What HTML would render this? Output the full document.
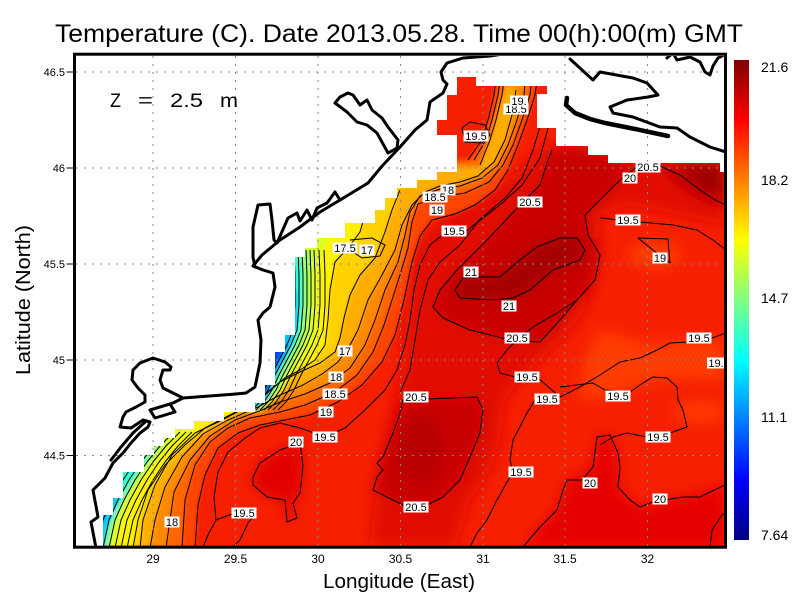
<!DOCTYPE html>
<html>
<head>
<meta charset="utf-8">
<style>
html,body{margin:0;padding:0;background:#fff;}
svg{display:block;}
text{font-family:"Liberation Sans",sans-serif;fill:#000;}
</style>
</head>
<body>
<svg width="800" height="600" viewBox="0 0 800 600" xmlns="http://www.w3.org/2000/svg">
<defs>
  <clipPath id="dc">
    <polygon points="457,77 476,77 476,86 547,86 547,94 537,94 537,128 556,128 556,146 588,146 588,155 608,155 608,163 720,163 720,172 725,172 725,547 103,547 103,515 113,515 113,498 123,498 123,472 144,472 144,455 154,455 154,446 164,446 164,438 175,438 175,429 194,429 194,421 224,421 224,412 255,412 255,403 265,403 265,385 275,385 275,352 285,352 285,335 295,335 295,257 305,257 305,248 317,248 317,238 345,238 345,223 375,223 375,210 385,210 385,198 397,198 397,188 417,188 417,180 437,180 437,172 457,172 457,135 437,135 437,120 447,120 447,95 457,95"/>
  </clipPath>
  <clipPath id="plot"><rect x="76" y="56" width="648" height="490"/></clipPath>
  <filter id="bA" filterUnits="userSpaceOnUse" x="0" y="0" width="800" height="600"><feGaussianBlur stdDeviation="7"/></filter>
  <filter id="bB" filterUnits="userSpaceOnUse" x="0" y="0" width="800" height="600"><feGaussianBlur stdDeviation="2.5"/></filter>
  <linearGradient id="jet" x1="0" y1="0" x2="0" y2="1">
    <stop offset="0" stop-color="#800000"/>
    <stop offset="0.125" stop-color="#ff0000"/>
    <stop offset="0.375" stop-color="#ffff00"/>
    <stop offset="0.625" stop-color="#00ffff"/>
    <stop offset="0.875" stop-color="#0000ff"/>
    <stop offset="1" stop-color="#000080"/>
  </linearGradient>
</defs>

<rect x="0" y="0" width="800" height="600" fill="#fff"/>

<!-- Title -->
<text x="55" y="42" font-size="25" textLength="688" lengthAdjust="spacingAndGlyphs">Temperature (C). Date 2013.05.28. Time 00(h):00(m) GMT</text>

<!-- Field -->
<g clip-path="url(#dc)">
  <rect x="0" y="0" width="800" height="600" fill="#f62000"/>
  <g filter="url(#bA)">
    <polygon fill="#e20800" points="410,250 440,215 480,195 520,170 545,145 600,150 640,165 700,165 725,170 725,225 680,215 630,205 600,215 600,260 590,300 570,330 540,360 520,380 505,400 500,440 490,470 470,500 455,547 370,547 375,500 380,460 390,420 400,380 405,330 408,290"/>
    <polygon fill="#e60600" points="523,547 540,527 557,510 567,480 593,467 598,435 610,435 618,460 620,490 640,507 683,497 725,485 725,547"/>
    <polygon fill="#e00400" points="253,477 260,463 280,450 300,443 303,466 300,493 293,503 297,518 287,522 285,500 267,497 253,485"/>
    <polygon fill="#ff3c00" points="600,330 650,345 700,340 725,345 725,380 690,378 650,382 610,395 580,400 585,360"/>
    <ellipse cx="655" cy="255" rx="25" ry="12" fill="#ff4000"/>
    <ellipse cx="700" cy="412" rx="25" ry="12" fill="#ff3800"/>
    <polygon fill="#c80000" points="433,307 440,290 457,270 487,240 520,205 540,185 548,160 556,146 588,146 588,155 608,155 608,163 635,165 620,180 600,200 585,215 588,235 600,255 595,280 577,300 560,320 540,342 510,340 470,330 443,318"/>
    <polygon fill="#c80000" points="403,400 427,399 477,397 483,410 480,433 470,457 460,480 443,497 427,505 403,505 387,497 373,490 377,477 383,470 377,463 383,457 393,433 400,413"/>
    <polygon fill="#c40000" points="655,163 725,163 725,210 710,205 690,195 670,180"/>
    <ellipse cx="420" cy="450" rx="22" ry="35" fill="#b80000"/>
    <polygon fill="#a40000" points="455,290 463,278 482,277 500,277 520,260 537,247 560,238 577,238 585,250 580,260 553,270 530,290 513,298 492,300 460,298"/>
    <polygon fill="#9a0000" points="680,163 725,163 725,195 705,190 690,178"/>
  </g>
  <g filter="url(#bB)">
    <polygon fill="#ff4400" points="540,60 535,95 527,120 518,145 508,170 495,190 475,205 455,214 432,220 420,236 412,262 404,300 395,335 382,362 362,385 338,402 310,415 285,420 260,425 238,433 218,448 205,475 198,505 195,548 0,548 0,160 455,160 468,160 482,140 488,120 494,95 498,60"/>
    <polygon fill="#ff6600" points="534,60 530,95 522,120 513,145 503,165 489,182 465,193 440,197 418,204 412,222 408,248 400,275 392,300 384,325 373,352 357,375 335,392 305,405 280,412 250,418 228,428 210,442 195,465 185,500 182,548 0,548 0,160 455,160 474,160 486,140 492,120 498,95 503,60"/>
    <polygon fill="#ff8a00" points="527,60 524,95 517,120 508,145 498,165 482,178 460,186 440,189 420,196 410,212 405,235 398,262 385,290 375,320 365,345 350,368 330,383 305,394 280,402 262,410 235,420 210,436 190,460 174,492 166,548 0,548 0,165 455,165 480,165 490,140 496,120 502,95 507,60"/>
    <polygon fill="#ffae00" points="516,90 512,115 505,140 494,162 478,176 460,182 440,186 425,192 412,205 402,225 395,250 382,275 368,300 358,330 350,345 338,362 322,374 303,385 278,396 258,407 228,420 203,434 182,457 165,487 155,520 150,548 0,548 0,168 455,168 480,168 487,148 494,125 502,100 508,85"/>
    <polygon fill="#ffd200" points="400,190 392,210 385,232 375,258 360,275 350,295 344,318 340,338 335,352 320,363 300,372 280,382 265,395 245,408 220,421 195,433 172,455 155,485 143,520 140,548 0,548 0,185 400,185"/>
    <polygon fill="#fff200" points="365,215 360,232 348,248 335,262 330,290 328,320 325,345 315,360 300,370 285,378 270,390 255,402 230,415 205,428 185,445 165,465 148,490 138,520 133,548 0,548 0,210 365,210"/>
    <polygon fill="#e0ff20" points="330,236 322,255 318,280 318,310 317,335 312,350 302,362 292,375 282,390 272,402 262,410 250,412 250,236"/>
    <polygon fill="#e0ff20" points="195,430 178,440 162,455 150,470 137,490 127,510 120,530 117,548 0,548 0,430"/>
    <polygon fill="#9bff64" points="312,250 310,275 310,305 308,330 303,345 295,358 287,372 280,388 270,400 262,408 250,410 250,250"/>
    <polygon fill="#9bff64" points="168,440 156,455 143,472 131,490 121,508 113,528 109,548 0,548 0,440"/>
    <polygon fill="#2effd1" points="302,256 303,280 303,305 301,328 296,343 290,355 282,370 275,385 268,398 260,406 250,408 250,256"/>
    <polygon fill="#2effd1" points="150,456 137,474 125,494 116,512 109,530 106,548 0,548 0,456"/>
    <polygon fill="#00bfff" points="297,290 298,320 293,340 286,355 278,370 272,385 266,398 260,405 250,405 250,290"/>
    <polygon fill="#00bfff" points="122,498 112,514 106,530 104,548 0,548 0,498"/>
    <polygon fill="#0040ff" points="288,345 280,360 272,378 268,395 262,402 250,402 250,345"/>
  </g>

  <!-- contour lines -->
  <g fill="none" stroke="#000" stroke-width="1" stroke-linejoin="round">
    <polygon points="455,290 463,278 482,277 500,277 520,260 537,247 560,238 577,238 585,250 580,260 553,270 530,290 513,298 492,300 460,298"/>
    <polyline points="552,150 548,160 540,185 520,205 487,240 457,270 440,290 433,307 443,318 470,330 510,340 540,342 560,320 577,300 595,280 600,255 588,235 585,215 600,200 620,180 635,168 660,166 680,175 700,190 715,200 726,205"/>
    <polygon points="403,400 427,399 477,397 483,410 480,433 470,457 460,480 443,497 427,505 403,505 387,497 373,490 377,477 383,470 377,463 383,457 393,433 400,413"/>
    <polygon points="253,477 260,463 280,450 300,443 303,466 300,493 293,503 297,518 287,522 285,500 267,497 253,485"/>
    <polyline points="523,547 540,527 557,510 563,490 567,480 582,480 593,467 597,437 610,435 618,453 620,467 618,487 630,500 640,507 653,502 683,497 700,497 725,485"/>
    <polyline points="548,128 540,158 522,185 500,205 478,222 460,245 440,262 428,280 420,310 415,340 410,370 400,393"/>
    <polyline points="548,90 542,120 533,150 522,178 505,198 485,215 467,231 445,233 430,245 420,265 414,290 410,320 405,345 397,370 385,390 365,410 345,428 325,437 300,428 280,423 260,428 245,438 228,452 218,472 214,497 216,520 208,535 203,547"/>
    <polyline points="216,520 232,514 256,513 248,523 240,540 233,547"/>
    <polyline points="600,218 640,222 673,225 697,230 713,240 726,250"/>
    <polyline points="577,300 557,313 533,327 520,337 507,350 497,363 500,373 515,377 538,378 560,397 580,387 600,375 620,362 640,358 657,350 670,343 687,342 712,338 726,333"/>
    <polyline points="535,400 527,413 513,440 510,460 513,473 507,482 497,500 487,520 477,533 470,547"/>
    <polyline points="560,387 593,383 605,390 630,392 643,383 653,377 667,378 677,387 678,400 683,410 687,427 670,433 647,437 627,433 613,437 600,445"/>
    <polyline points="638,238 668,239 670,263 653,250 638,238"/>
    <polyline points="462,128 470,122 485,125 490,135 482,143 465,142 462,128"/>
    <polyline points="710,547 712,530 722,515 726,512"/>
    <polyline points="468,160 482,140 488,120 494,95 498,60"/>
    <polyline points="474,160 486,140 492,120 498,95 503,60"/>
    <polyline points="480,165 490,140 496,120 502,95 507,60"/>
    <polyline points="540,60 535,95 527,120 518,145 508,170 495,190 475,205 455,214 432,220 420,236 412,262 404,300 395,335 382,362 362,385 338,402 310,415 285,420 260,425 238,433 218,448 205,475 198,505 195,548"/>
    <polyline points="534,60 530,95 522,120 513,145 503,165 489,182 465,193 440,197 418,204 412,222 408,248 400,275 392,300 384,325 373,352 357,375 335,392 305,405 280,412 250,418 228,428 210,442 195,465 185,500 182,548"/>
    <polyline points="527,60 524,95 517,120 508,145 498,165 482,178 460,186 440,189 420,196 410,212 405,235 398,262 385,290 375,320 365,345 350,368 330,383 305,394 280,402 262,410 235,420 210,436 190,460 174,492 166,548"/>
    <polyline points="516,90 512,115 505,140 494,162 478,176 460,182 440,186 425,192 412,205 402,225 395,250 382,275 368,300 358,330 350,345 338,362 322,374 303,385 278,396 258,407 228,420 203,434 182,457 165,487 155,520 150,548"/>
    <polyline points="400,190 392,210 385,232 375,258 360,275 350,295 344,318 340,338 335,352 320,363 300,372 280,382 265,395 245,408 220,421 195,433 172,455 155,485 143,520 140,548"/>
    <polyline points="365,215 360,232 348,248 335,262 330,290 328,320 325,345 315,360 300,370 285,378 270,390 255,402 230,415 205,428 185,445 165,465 148,490 138,520 133,548"/>
    <polyline points="350,240 372,238 385,245 380,256 362,258 350,250"/>
    <polyline points="306,250 307,275 307,305 305,330 299,345 291,360 283,375 276,390 268,402 260,410" transform="translate(-12,0)"/>
    <polyline points="306,250 307,275 307,305 305,330 299,345 291,360 283,375 276,390 268,402 260,410" transform="translate(-8,0)"/>
    <polyline points="306,250 307,275 307,305 305,330 299,345 291,360 283,375 276,390 268,402 260,410" transform="translate(-4,0)"/>
    <polyline points="306,250 307,275 307,305 305,330 299,345 291,360 283,375 276,390 268,402 260,410"/>
    <polyline points="306,250 307,275 307,305 305,330 299,345 291,360 283,375 276,390 268,402 260,410" transform="translate(4,0)"/>
    <polyline points="306,250 307,275 307,305 305,330 299,345 291,360 283,375 276,390 268,402 260,410" transform="translate(8,0)"/>
    <polyline points="306,250 307,275 307,305 305,330 299,345 291,360 283,375 276,390 268,402 260,410" transform="translate(13,0)"/>
    <polyline points="306,250 307,275 307,305 305,330 299,345 291,360 283,375 276,390 268,402 260,410" transform="translate(18,0)"/>
    <polyline points="180,432 166,446 153,462 141,480 130,500 121,520 115,548" transform="translate(-30,0)"/>
    <polyline points="180,432 166,446 153,462 141,480 130,500 121,520 115,548" transform="translate(-24,0)"/>
    <polyline points="180,432 166,446 153,462 141,480 130,500 121,520 115,548" transform="translate(-18,0)"/>
    <polyline points="180,432 166,446 153,462 141,480 130,500 121,520 115,548" transform="translate(-12,0)"/>
    <polyline points="180,432 166,446 153,462 141,480 130,500 121,520 115,548" transform="translate(-6,0)"/>
    <polyline points="180,432 166,446 153,462 141,480 130,500 121,520 115,548"/>
    <polyline points="180,432 166,446 153,462 141,480 130,500 121,520 115,548" transform="translate(6,0)"/>
    <polyline points="180,432 166,446 153,462 141,480 130,500 121,520 115,548" transform="translate(12,0)"/>
  </g>
</g>

<!-- Grid -->
<g stroke="#8a8a8a" stroke-width="1" stroke-dasharray="2 6" fill="none">
  <line x1="153" y1="56" x2="153" y2="546"/>
  <line x1="235.5" y1="56" x2="235.5" y2="546"/>
  <line x1="318" y1="56" x2="318" y2="546"/>
  <line x1="400.5" y1="56" x2="400.5" y2="546"/>
  <line x1="483" y1="56" x2="483" y2="546"/>
  <line x1="565" y1="56" x2="565" y2="546"/>
  <line x1="647.5" y1="56" x2="647.5" y2="546"/>
  <line x1="76" y1="72" x2="724" y2="72"/>
  <line x1="76" y1="168" x2="724" y2="168"/>
  <line x1="76" y1="264" x2="724" y2="264"/>
  <line x1="76" y1="360" x2="724" y2="360"/>
  <line x1="76" y1="455.5" x2="724" y2="455.5"/>
</g>

<!-- Coastlines -->
<g clip-path="url(#plot)" fill="none" stroke="#000" stroke-width="3" stroke-linejoin="round" stroke-linecap="round">
  <path d="M510,53 L490,56 L463,58 L447,63 L441,72 L443,80 L447,84 L443,93 L430,102 L427,120 L415,130 L400,147 L383,165 L368,183 L345,197 L320,212 L300,227 L280,240 L262,255 L253,266 L263,270 L273,273 L275,287 L270,307 L263,313 L258,320 L261,340 L260,363 L255,387 L246,393 L236,394 L183,398 L173,403 L150,410"/>
  <path d="M183,398 L173,393 L163,388 L160,380 L163,370 L170,370 L171,367 L165,362 L153,358 L140,363 L133,370 L132,380 L138,388 L145,395 L145,402 L136,407 L126,412 L123,417 L120,427 L131,428 L143,420 L150,422 L148,427 L140,433 L131,443 L123,453 L113,463 L105,478 L96,487 L93,490 L98,517 L91,522 L96,548"/>
  <path d="M150,410 L170,404 L175,412 L155,418 Z"/>
  <path d="M145,422 L133,433 L121,447 L111,460"/>
  <path d="M255,267 L253,257 L253,227 L258,205 L270,204 L272,220 L274,240 L277,243 L288,218 L297,213 L300,221 L307,210 L312,220 L317,208 L327,203 L335,192 L340,200 L345,197"/>
  <path d="M335,103 L340,97 L348,93 L353,95 L360,105 L367,100 L372,110 L382,118 L388,127 L398,140 L397,148 L388,153 L377,133 L367,125 L357,122 L347,112 Z"/>
  <path d="M570,59 L593,80 L600,72 L633,78 L647,83 L658,95 L648,97 L627,100 L610,107 L613,113 L633,117 L660,127 L677,128 L690,137 L710,147 L726,152"/>
  <path d="M567,98 L566,105 L575,113 L590,119 L605,123 L635,129 L668,136" stroke-width="4.5"/>
  <path d="M667,58 L673,53 L677,60 L690,57 L700,62 L705,72 L710,75 L713,66 L718,58 L726,54"/>
</g>

<!-- Contour labels -->
<g font-size="11" text-anchor="middle">
  <rect x="503.5" y="103.5" width="25" height="11" fill="#fff"/><text x="516" y="113">18.5</text>
  <rect x="510" y="95.5" width="18" height="11" fill="#fff"/><text x="519" y="105">19.</text>
  <rect x="463.5" y="130.5" width="25" height="11" fill="#fff"/><text x="476" y="140">19.5</text>
  <rect x="635.5" y="161.5" width="25" height="11" fill="#fff"/><text x="648" y="171">20.5</text>
  <rect x="622.5" y="172.5" width="15" height="11" fill="#fff"/><text x="630" y="182">20</text>
  <rect x="440.5" y="184.5" width="15" height="11" fill="#fff"/><text x="448" y="194">18</text>
  <rect x="422.5" y="191.5" width="25" height="11" fill="#fff"/><text x="435" y="201">18.5</text>
  <rect x="429.5" y="204.5" width="15" height="11" fill="#fff"/><text x="437" y="214">19</text>
  <rect x="517.5" y="196.5" width="25" height="11" fill="#fff"/><text x="530" y="206">20.5</text>
  <rect x="441.5" y="225.5" width="25" height="11" fill="#fff"/><text x="454" y="235">19.5</text>
  <rect x="615.5" y="214.5" width="25" height="11" fill="#fff"/><text x="628" y="224">19.5</text>
  <rect x="652.5" y="252.5" width="15" height="11" fill="#fff"/><text x="660" y="262">19</text>
  <rect x="463.5" y="266.5" width="15" height="11" fill="#fff"/><text x="471" y="276">21</text>
  <rect x="501.5" y="300.5" width="15" height="11" fill="#fff"/><text x="509" y="310">21</text>
  <rect x="504.5" y="332.5" width="25" height="11" fill="#fff"/><text x="517" y="342">20.5</text>
  <rect x="332.5" y="242.5" width="25" height="11" fill="#fff"/><text x="345" y="252">17.5</text>
  <rect x="359.5" y="244.5" width="15" height="11" fill="#fff"/><text x="367" y="254">17</text>
  <rect x="337.5" y="345.5" width="15" height="11" fill="#fff"/><text x="345" y="355">17</text>
  <rect x="328.5" y="371.5" width="15" height="11" fill="#fff"/><text x="336" y="381">18</text>
  <rect x="322.5" y="388.5" width="25" height="11" fill="#fff"/><text x="335" y="398">18.5</text>
  <rect x="318.5" y="406.5" width="15" height="11" fill="#fff"/><text x="326" y="416">19</text>
  <rect x="403.5" y="391.5" width="25" height="11" fill="#fff"/><text x="416" y="401">20.5</text>
  <rect x="312.5" y="431.5" width="25" height="11" fill="#fff"/><text x="325" y="441">19.5</text>
  <rect x="288.5" y="436.5" width="15" height="11" fill="#fff"/><text x="296" y="446">20</text>
  <rect x="514.5" y="371.5" width="25" height="11" fill="#fff"/><text x="527" y="381">19.5</text>
  <rect x="534.5" y="393.5" width="25" height="11" fill="#fff"/><text x="547" y="403">19.5</text>
  <rect x="403.5" y="501.5" width="25" height="11" fill="#fff"/><text x="416" y="511">20.5</text>
  <rect x="508.5" y="466.5" width="25" height="11" fill="#fff"/><text x="521" y="476">19.5</text>
  <rect x="686.5" y="332.5" width="25" height="11" fill="#fff"/><text x="699" y="342">19.5</text>
  <rect x="707" y="357.5" width="18" height="11" fill="#fff"/><text x="716" y="367">19.</text>
  <rect x="605.5" y="390.5" width="25" height="11" fill="#fff"/><text x="618" y="400">19.5</text>
  <rect x="645.5" y="431.5" width="25" height="11" fill="#fff"/><text x="658" y="441">19.5</text>
  <rect x="582.5" y="477.5" width="15" height="11" fill="#fff"/><text x="590" y="487">20</text>
  <rect x="652.5" y="493.5" width="15" height="11" fill="#fff"/><text x="660" y="503">20</text>
  <rect x="164.5" y="516.5" width="15" height="11" fill="#fff"/><text x="172" y="526">18</text>
  <rect x="231.5" y="507.5" width="25" height="11" fill="#fff"/><text x="244" y="517">19.5</text>
</g>

<!-- Z label -->
<g font-size="19">
  <text x="110" y="107" textLength="11" lengthAdjust="spacingAndGlyphs">Z</text>
  <text x="138" y="107" textLength="15" lengthAdjust="spacingAndGlyphs">=</text>
  <text x="170" y="107" textLength="33" lengthAdjust="spacingAndGlyphs">2.5</text>
  <text x="220" y="107" textLength="18" lengthAdjust="spacingAndGlyphs">m</text>
</g>

<!-- Frame -->
<rect x="74.5" y="54.2" width="651" height="493" fill="none" stroke="#000" stroke-width="3"/>

<!-- Y ticks and labels -->
<g stroke="#000" stroke-width="1">
  <line x1="66.5" y1="72" x2="73" y2="72"/>
  <line x1="66.5" y1="168" x2="73" y2="168"/>
  <line x1="66.5" y1="264" x2="73" y2="264"/>
  <line x1="66.5" y1="360" x2="73" y2="360"/>
  <line x1="66.5" y1="455.5" x2="73" y2="455.5"/>
</g>
<g font-size="11" text-anchor="end">
  <text x="65" y="76">46.5</text>
  <text x="65" y="172">46</text>
  <text x="65" y="268">45.5</text>
  <text x="65" y="364">45</text>
  <text x="65" y="459.5">44.5</text>
</g>

<!-- X labels -->
<g font-size="12" text-anchor="middle">
  <text x="153" y="563">29</text>
  <text x="235.5" y="563">29.5</text>
  <text x="318" y="563">30</text>
  <text x="400.5" y="563">30.5</text>
  <text x="483" y="563">31</text>
  <text x="565" y="563">31.5</text>
  <text x="647.5" y="563">32</text>
</g>

<!-- Axis titles -->
<text x="323" y="588" font-size="20" textLength="152" lengthAdjust="spacingAndGlyphs">Longitude (East)</text>
<text transform="translate(30,300) rotate(-90)" x="0" y="0" font-size="20" text-anchor="middle" textLength="150" lengthAdjust="spacingAndGlyphs">Latitude (North)</text>

<!-- Colorbar -->
<rect x="734" y="60" width="15" height="480" fill="url(#jet)"/>
<g font-size="14">
  <text x="761" y="72">21.6</text>
  <text x="761" y="185">18.2</text>
  <text x="761" y="303">14.7</text>
  <text x="761" y="422">11.1</text>
  <text x="761" y="540">7.64</text>
</g>
</svg>
</body>
</html>
